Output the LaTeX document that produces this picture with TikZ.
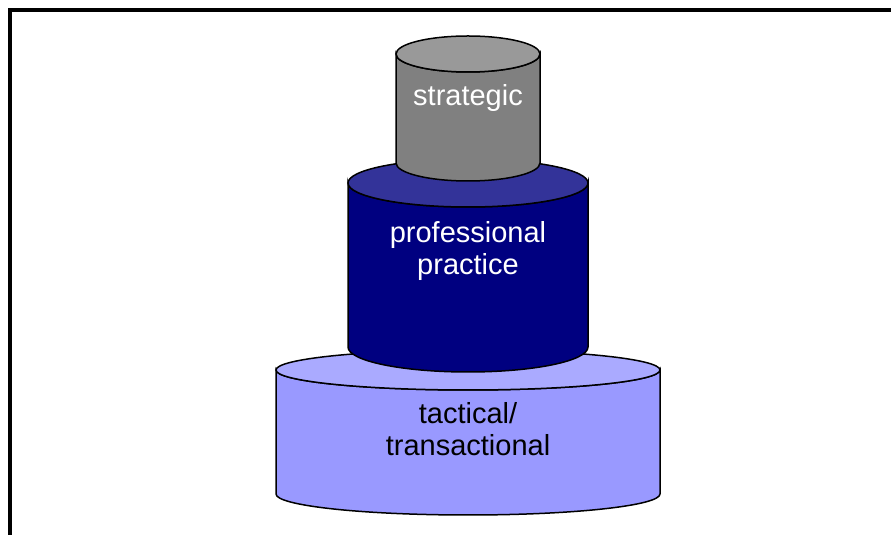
\documentclass[tikz,border=0pt]{standalone}
\usepackage{fontspec}
\setmainfont{Liberation Sans}
\definecolor{grayside}{HTML}{808080}
\definecolor{graytop}{HTML}{999999}
\definecolor{navyside}{HTML}{000080}
\definecolor{navytop}{HTML}{333399}
\definecolor{lavside}{HTML}{9999FF}
\definecolor{lavtop}{HTML}{AAAAFF}
\tikzset{
  edge/.style={draw=black, line width=1.5pt},
  lbl/.style={font=\fontsize{29}{32}\selectfont, align=center, inner sep=0pt},
}
% cylinder: cx, rx, ytop, rytop, ybot, rybot, sidecolor, topcolor
\newcommand{\mycyl}[8]{%
  \path[edge, fill=#7] (#1-#2,#3) -- (#1-#2,#5)
    arc[start angle=180, end angle=360, x radius=#2, y radius=#6]
    -- (#1+#2,#3)
    arc[start angle=0, end angle=-180, x radius=#2, y radius=#4] -- cycle;
  \path[edge, fill=#8] (#1,#3) ellipse[x radius=#2, y radius=#4];
}
\begin{document}
\begin{tikzpicture}[x=1pt,y=1pt]
\useasboundingbox (0,0) rectangle (891,535);
\draw[line width=4pt] (10,-5) -- (10,525) -- (900,525);
% tactical
\mycyl{468}{192}{165}{20}{41}{21}{lavside}{lavtop}
% professional
\mycyl{468}{120}{352}{24}{188}{25}{navyside}{navytop}
% strategic
\mycyl{468}{72}{481}{18}{372}{18}{grayside}{graytop}
\node[lbl, text=white] (strat) at (468,437) {strategic};
\node[lbl, text=white] (prof) at (468,284) {professional\\practice};
\node[lbl, text=black] (tact) at (468,106) {tactical/\\transactional};
\end{tikzpicture}
\end{document}
